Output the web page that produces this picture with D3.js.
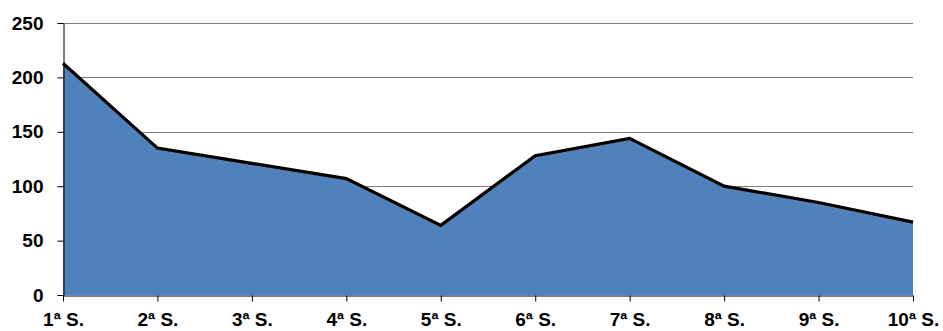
<!DOCTYPE html>
<html>
<head>
<meta charset="utf-8">
<script src="https://cdn.jsdelivr.net/npm/d3@7/dist/d3.min.js"></script>
<style>
  html, body { margin: 0; padding: 0; background: #fff; }
  svg { display: block; }
  .tick text { font-family: "Liberation Sans", Arial, sans-serif; font-weight: bold; font-size: 19px; fill: #000; }
</style>
</head>
<body>
<svg id="chart" width="943" height="331"></svg>
<script>
// Weekly series
const categories = ["1ª S.", "2ª S.", "3ª S.", "4ª S.", "5ª S.", "6ª S.", "7ª S.", "8ª S.", "9ª S.", "10ª S."];
const values = [213, 135, 121, 107, 64, 128, 144, 100, 85, 67];
const yTicks = [0, 50, 100, 150, 200, 250];

const W = 943, H = 331;
const margin = { left: 63, right: 30, top: 23, bottom: 36 };

const svg = d3.select("#chart");

const x = d3.scalePoint()
  .domain(categories)
  .range([margin.left, W - margin.right]);

const y = d3.scaleLinear()
  .domain([0, 250])
  .range([H - margin.bottom, margin.top]);

const data = categories.map((c, i) => ({ c, v: values[i] }));

// Horizontal gridlines
svg.append("g")
  .selectAll("line")
  .data(yTicks.filter(t => t > 0))
  .join("line")
  .attr("x1", margin.left)
  .attr("x2", W - margin.right)
  .attr("y1", d => Math.round(y(d)) + 0.5)
  .attr("y2", d => Math.round(y(d)) + 0.5)
  .attr("stroke", "#7f7f7f")
  .attr("stroke-width", 1);

// Filled area
svg.append("path")
  .datum(data)
  .attr("fill", "#4F81BD")
  .attr("d", d3.area()
    .x(d => x(d.c))
    .y0(y(0))
    .y1(d => y(d.v)));

// Outline on top of the area
svg.append("path")
  .datum(data)
  .attr("fill", "none")
  .attr("stroke", "#000")
  .attr("stroke-width", 3.2)
  .attr("stroke-linejoin", "miter")
  .attr("d", d3.line()
    .x(d => x(d.c))
    .y(d => y(d.v)));

// Y axis
const yAxis = svg.append("g")
  .attr("transform", `translate(${margin.left + 0.5},0)`)
  .call(d3.axisLeft(y).tickValues(yTicks).tickSize(6).tickPadding(14).tickSizeOuter(0));
yAxis.select(".domain").attr("stroke", "#000");
yAxis.selectAll(".tick line").attr("stroke", "#000");

// X axis
const xAxis = svg.append("g")
  .attr("transform", `translate(0,${Math.round(y(0)) + 0.5})`)
  .call(d3.axisBottom(x).tickSize(6).tickPadding(11).tickSizeOuter(0));
xAxis.select(".domain").attr("stroke", "#000");
xAxis.selectAll(".tick line").attr("stroke", "#000");
</script>
</body>
</html>
